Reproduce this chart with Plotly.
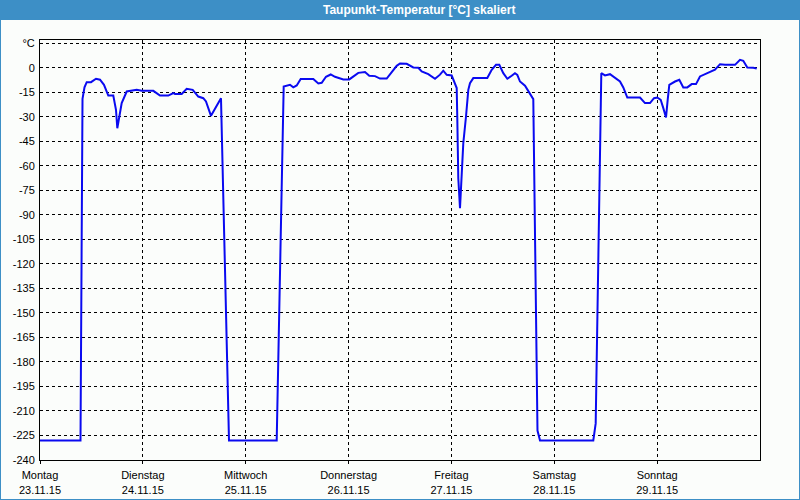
import plotly.graph_objects as go

# Hours since Monday 23.11.15 00:00
hours = [0, 9.45, 9.92, 10.38, 10.9, 11.9, 13.07, 14.0, 14.93, 15.94, 17.1, 17.73, 18.04, 18.67, 19.06,
         20.23, 22.56, 23.73, 26.44, 28.0, 29.94, 31.1, 31.5, 33.06, 34.23, 35.63, 36.94, 38.1, 38.73,
         39.9, 41.23, 42.23, 44.1, 55.23, 56.86, 58.33, 59.1, 59.9, 60.83, 63.0, 63.77, 64.94, 65.73,
         66.73, 67.83, 68.83, 70.77, 72.17, 73.1, 74.27, 75.83, 76.83, 78.17, 79.33, 80.9, 82.06, 83.23,
         84.0, 85.56, 87.1, 88.27, 89.06, 90.6, 92.17, 93.33, 94.1, 94.9, 96.06, 96.83, 97.23, 97.37,
         97.6, 98.0, 98.4, 98.77, 99.4, 99.94, 100.33, 101.1, 104.37, 105.4, 106.4, 107.17, 108.1,
         109.04, 110.06, 110.83, 111.37, 112.0, 113.17, 113.94, 115.1, 116.08, 116.67, 129.1, 129.66,
         130.97, 131.83, 133.0, 134.17, 135.33, 136.1, 137.04, 140.0, 141.17, 142.33, 143.27, 144.04,
         144.83, 145.44, 146.07, 146.46, 146.84, 148.17, 149.17, 150.1, 151.04, 152.06, 153.07, 154.0,
         155.17, 156.73, 157.5, 158.67, 159.83, 162.17, 163.33, 164.1, 165.04, 166.44, 167.23]

dewpoint = [-228, -228, -19, -12, -8.8, -8.8, -6.7, -7.3, -10.4, -17, -17, -25.7, -37, -27.6, -21.6,
            -14.5, -13.5, -14.1, -14.1, -17, -17, -15.5, -16, -16, -12.9, -13.5, -17.6, -18.6, -20.6,
            -29.4, -23.7, -18.6, -228, -228, -11.5, -10.4, -12, -10.8, -6.9, -7.1, -6.9, -9.6, -9.2,
            -5.5, -4.1, -5.5, -7.1, -7.1, -5.5, -3.1, -2.6, -4.9, -5.1, -6.6, -6.6, -2.9, 1.2,
            2.6, 2.4, 0.2, 0, -2.2, -3.9, -6.7, -4.2, -1.8, -4.3, -4.7, -9.4, -12.4, -30.8,
            -67.6, -85.9, -68.6, -46.1, -29.8, -13.5, -9.4, -6.3, -6.3, -1.2, 1.8, 1.8, -3.3,
            -6.7, -4.9, -3.3, -4.3, -8.4, -11, -14.5, -19.2, -222, -228, -228, -217.6,
            -3.3, -4.7, -3.9, -5.9, -8.4, -12, -18.2, -18.2, -21.6, -21.6, -18.6, -18.2,
            -19.6, -24.7, -30.4, -19.6, -10.4, -8.4, -7.3, -12, -12, -10, -10, -5.3,
            -3.9, -2.2, -1.2, 2.2, 1.8, 1.8, 4.9, 4.3, 0.2, 0, -0.5]

day_hours = [0, 24, 48, 72, 96, 120, 144]
day_labels = ["Montag<br>23.11.15", "Dienstag<br>24.11.15", "Mittwoch<br>25.11.15",
              "Donnerstag<br>26.11.15", "Freitag<br>27.11.15", "Samstag<br>28.11.15",
              "Sonntag<br>29.11.15"]
y_ticks = list(range(-240, 16, 15))
y_labels = [str(v) if v != 15 else "°C" for v in y_ticks]

title_text = "Taupunkt-Temperatur [°C] skaliert"

W, H = 800, 500
ML, MR, MT, MB = 40, 40, 40, 40
pw, ph = W - ML - MR, H - MT - MB

def px_x(px):
    return (px - ML) / pw

def px_y(py):
    return (H - MB - py) / ph

fig = go.Figure()
fig.add_trace(go.Scatter(x=hours, y=dewpoint, mode="lines",
                         line=dict(color="#0a0af0", width=2), hoverinfo="skip"))

bg = "#fbfdfb"
frame_blue = "#3d8fc6"
fig.update_layout(
    width=W, height=H,
    margin=dict(l=ML, r=MR, t=MT, b=MB, autoexpand=False),
    paper_bgcolor=bg, plot_bgcolor=bg,
    showlegend=False,
    font=dict(family="Liberation Sans, Arial, sans-serif", size=11, color="black"),
    xaxis=dict(range=[0, 168], tickvals=day_hours, ticktext=day_labels,
               showgrid=True, gridcolor="black", gridwidth=1, griddash="3px,3px",
               showline=True, linecolor="black", linewidth=1, mirror=True,
               ticks="outside", ticklen=3, tickcolor="black", zeroline=False,
               automargin=False, ticklabelstandoff=2, tickfont=dict(size=11)),
    yaxis=dict(range=[-240, 17], tickvals=y_ticks, ticktext=y_labels,
               showgrid=True, gridcolor="black", gridwidth=1, griddash="3px,3px",
               showline=True, linecolor="black", linewidth=1, mirror=True,
               ticks="", zeroline=False, automargin=False, ticklabelstandoff=2,
               tickfont=dict(size=11)),
    shapes=[
        dict(type="rect", xref="paper", yref="paper", layer="below",
             x0=px_x(0), x1=px_x(W), y0=px_y(20), y1=px_y(0),
             fillcolor=frame_blue, line=dict(width=0)),
        dict(type="line", xref="paper", yref="paper", x0=px_x(0.5), x1=px_x(0.5),
             y0=px_y(20), y1=px_y(499.5), line=dict(color=frame_blue, width=1)),
        dict(type="line", xref="paper", yref="paper", x0=px_x(799.5), x1=px_x(799.5),
             y0=px_y(20), y1=px_y(499.5), line=dict(color=frame_blue, width=1)),
        dict(type="line", xref="paper", yref="paper", x0=px_x(0), x1=px_x(800),
             y0=px_y(499.5), y1=px_y(499.5), line=dict(color=frame_blue, width=1)),
    ],
    annotations=[
        dict(text="<b>" + title_text + "</b>", xref="paper", yref="paper",
             x=px_x(418.5), y=px_y(10), xanchor="center", yanchor="middle",
             showarrow=False, font=dict(color="white", size=12,
                                        family="Liberation Sans, Arial, sans-serif")),
    ],
)

fig.write_html("out.html")
